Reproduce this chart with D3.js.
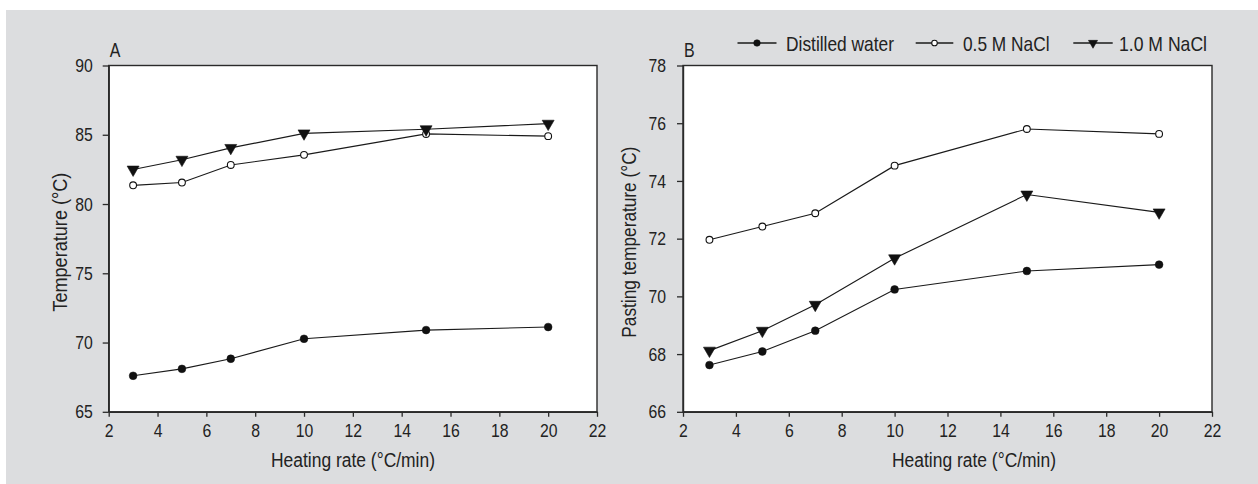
<!DOCTYPE html>
<html>
<head>
<meta charset="utf-8">
<script src="https://cdn.jsdelivr.net/npm/d3@7"></script>
<style>
  html, body { margin: 0; padding: 0; background: #ffffff; }
  svg { display: block; }
  text { font-family: "Liberation Sans", Arial, sans-serif; fill: #222222; }
</style>
</head>
<body>
<svg id="chart" width="1258" height="484"></svg>
<script>
// ---------- data ----------
const heatingRates = [3, 5, 7, 10, 15, 20];
const seriesNames = ["Distilled water", "0.5 M NaCl", "1.0 M NaCl"];

// Panel A: Temperature (°C)
const waterA   = [67.6, 68.1, 68.83, 70.27, 70.9, 71.12];
const nacl05A  = [81.35, 81.55, 82.82, 83.55, 85.06, 84.9];
const nacl10A  = [82.49, 83.2, 84.05, 85.1, 85.4, 85.8];

// Panel B: Pasting temperature (°C)
const waterB   = [67.62, 68.09, 68.81, 70.24, 70.88, 71.1];
const nacl05B  = [71.96, 72.42, 72.88, 74.53, 75.8, 75.63];
const nacl10B  = [68.12, 68.81, 69.71, 71.32, 73.53, 72.91];

const xTicks  = [2, 4, 6, 8, 10, 12, 14, 16, 18, 20, 22];
const yTicksA = [65, 70, 75, 80, 85, 90];
const yTicksB = [66, 68, 70, 72, 74, 76, 78];

// ---------- drawing ----------
const svg = d3.select("#chart");
const ink = "#2a2a2a";

svg.append("rect").attr("x", 6).attr("y", 10).attr("width", 1252).attr("height", 474).attr("fill", "#dcdddf");

function squeeze(sel, k) {
  sel.each(function () {
    const L = this.getComputedTextLength();
    d3.select(this).attr("textLength", L * k).attr("lengthAdjust", "spacingAndGlyphs");
  });
}

const markerTypes = ["filled", "open", "triangle"];

function drawMarker(g, type, x, y, big) {
  if (type === "triangle") {
    const s = big ? 62 : 36;
    g.append("path")
      .attr("d", d3.symbol().type(d3.symbolTriangle).size(s)())
      .attr("transform", `translate(${x},${y}) rotate(180)`)
      .attr("fill", "#111").attr("stroke", "#111").attr("stroke-width", 0.6);
  } else {
    const r = big ? 3.9 : 3.3;
    g.append("circle").attr("cx", x).attr("cy", y).attr("r", type === "open" ? r - 0.5 : r)
      .attr("fill", type === "open" ? "#ffffff" : "#111")
      .attr("stroke", "#111").attr("stroke-width", type === "open" ? 1.1 : 0.5);
  }
}

function panel(opts) {
  const { left, right, top, bottom, yDomain, yTicks, series, label, yTitle, yTitleX, yTitleLen, xTitleX, yPad } = opts;
  const x = d3.scaleLinear().domain([2, 22]).range([left, right]);
  const y = d3.scaleLinear().domain(yDomain).range([bottom, top]);
  const g = svg.append("g");

  g.append("rect").attr("x", left).attr("y", top).attr("width", right - left).attr("height", bottom - top)
    .attr("fill", "#ffffff").attr("stroke", ink).attr("stroke-width", 1.4);

  const xAxis = g.append("g").attr("transform", `translate(0,${bottom})`)
    .call(d3.axisBottom(x).tickValues(xTicks).tickSize(5).tickSizeOuter(0).tickPadding(7).tickFormat(d3.format("d")));
  const yAxis = g.append("g").attr("transform", `translate(${left},0)`)
    .call(d3.axisLeft(y).tickValues(yTicks).tickSize(6).tickSizeOuter(0).tickPadding(yPad).tickFormat(d3.format("d")));
  [xAxis, yAxis].forEach(ax => {
    ax.select(".domain").attr("stroke", ink).attr("stroke-width", 1.4);
    ax.selectAll(".tick line").attr("stroke", ink).attr("stroke-width", 1.3);
    ax.selectAll(".tick text").attr("font-size", 19).attr("fill", "#222")
      .style("font-family", '"Liberation Sans", Arial, sans-serif');
    squeeze(ax.selectAll(".tick text"), 0.83);
  });

  const line = d3.line().x((d, i) => x(heatingRates[i])).y(d => y(d));
  series.forEach((vals, si) => {
    g.append("path").datum(vals).attr("d", line)
      .attr("fill", "none").attr("stroke", "#1a1a1a").attr("stroke-width", 1.15);
  });
  series.forEach((vals, si) => {
    vals.forEach((v, i) => drawMarker(g, markerTypes[si], x(heatingRates[i]), y(v), true));
  });

  const lab = g.append("text").attr("x", left + 1).attr("y", 57).attr("font-size", 21).text(label);
  squeeze(lab, 0.76);

  g.append("text").attr("transform", `translate(${yTitleX},${(top + bottom) / 2 + 3.5}) rotate(-90)`)
    .attr("text-anchor", "middle").attr("font-size", 20).attr("dy", "0.35em")
    .attr("textLength", yTitleLen).attr("lengthAdjust", "spacingAndGlyphs").text(yTitle);

  g.append("text").attr("x", xTitleX).attr("y", 467).attr("text-anchor", "middle")
    .attr("font-size", 20).attr("textLength", 164).attr("lengthAdjust", "spacingAndGlyphs")
    .text("Heating rate (°C/min)");
}

panel({
  left: 108.7, right: 597, top: 65.5, bottom: 411.8,
  yDomain: [65, 90], yTicks: yTicksA,
  series: [waterA, nacl05A, nacl10A],
  label: "A", yTitle: "Temperature (°C)", yTitleX: 59.5, yTitleLen: 139, xTitleX: 353, yPad: 10
});

panel({
  left: 683, right: 1212, top: 65.5, bottom: 411.8,
  yDomain: [66, 78], yTicks: yTicksB,
  series: [waterB, nacl05B, nacl10B],
  label: "B", yTitle: "Pasting temperature (°C)", yTitleX: 628.5, yTitleLen: 191, xTitleX: 974, yPad: 11
});

// ---------- legend ----------
const legendItems = [
  { x0: 737.5, x1: 776.5, tx: 786, w: 108 },
  { x0: 915.7, x1: 953.3, tx: 963, w: 86.5 },
  { x0: 1073.3, x1: 1112.7, tx: 1119, w: 88 }
];
const lg = svg.append("g");
seriesNames.forEach((name, i) => {
  const it = legendItems[i];
  lg.append("line").attr("x1", it.x0).attr("x2", it.x1).attr("y1", 43).attr("y2", 43)
    .attr("stroke", "#1a1a1a").attr("stroke-width", 1.3);
  drawMarker(lg, markerTypes[i], (it.x0 + it.x1) / 2, 43, false);
  lg.append("text").attr("x", it.tx).attr("y", 50.7).attr("font-size", 21)
    .attr("textLength", it.w).attr("lengthAdjust", "spacingAndGlyphs").text(name);
});
</script>
</body>
</html>
